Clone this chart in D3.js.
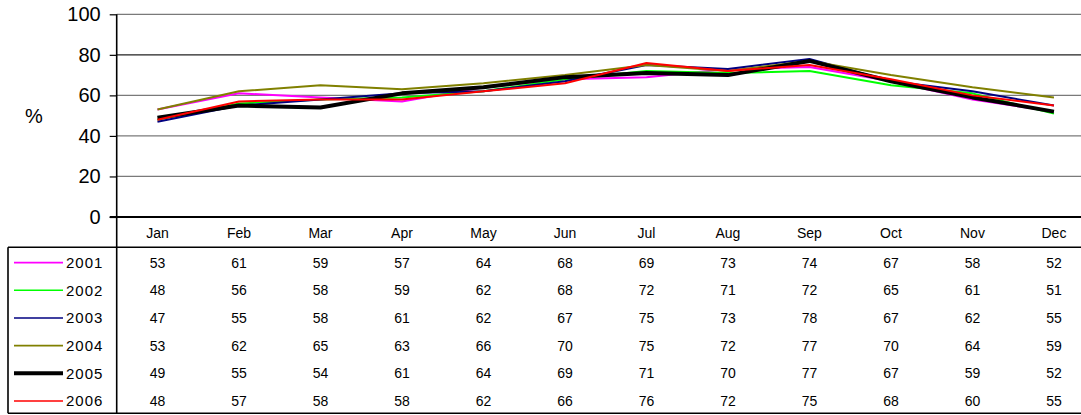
<!DOCTYPE html>
<html>
<head>
<meta charset="utf-8">
<script src="https://cdn.jsdelivr.net/npm/d3@7"></script>
<style>
  html, body { margin: 0; padding: 0; background: #fff; }
  svg { display: block; font-family: "Liberation Sans", Arial, sans-serif; }
</style>
</head>
<body>
<svg id="chart" width="1081" height="415"></svg>
<script>
// Monthly percentages by year
const months = ["Jan", "Feb", "Mar", "Apr", "May", "Jun", "Jul", "Aug", "Sep", "Oct", "Nov", "Dec"];
const years = ["2001", "2002", "2003", "2004", "2005", "2006"];
const v2001 = [53, 61, 59, 57, 64, 68, 69, 73, 74, 67, 58, 52];
const v2002 = [48, 56, 58, 59, 62, 68, 72, 71, 72, 65, 61, 51];
const v2003 = [47, 55, 58, 61, 62, 67, 75, 73, 78, 67, 62, 55];
const v2004 = [53, 62, 65, 63, 66, 70, 75, 72, 77, 70, 64, 59];
const v2005 = [49, 55, 54, 61, 64, 69, 71, 70, 77, 67, 59, 52];
const v2006 = [48, 57, 58, 58, 62, 66, 76, 72, 75, 68, 60, 55];
const yTicks = [0, 20, 40, 60, 80, 100];
const yLabel = "%";

const seriesValues = [v2001, v2002, v2003, v2004, v2005, v2006];
const seriesColors = ["#ff00ff", "#00ff00", "#000080", "#808000", "#000000", "#ff0000"];
const seriesWidths = [2, 2, 2, 2, 4, 2];

const svg = d3.select("#chart");

// Plot geometry
const plotLeft = 116.7;
const bandW = 81.5;
const yTop = 14.3, yBottom = 217;
const tableLeft = 8;
const headerBottom = 247.3;
const rowH = 27.67;
const tableBottom = headerBottom + rowH * years.length;

const x = d3.scaleBand().domain(months).range([plotLeft, plotLeft + bandW * months.length]).padding(0);
const y = d3.scaleLinear().domain([0, 100]).range([yBottom, yTop]);
const cx = m => x(m) + x.bandwidth() / 2;

// Horizontal gridlines
svg.append("g")
  .selectAll("line")
  .data(yTicks.filter(t => t > 0))
  .join("line")
  .attr("x1", plotLeft).attr("x2", 1081)
  .attr("y1", d => y(d)).attr("y2", d => y(d))
  .attr("stroke", d => d === 80 ? "#222" : "#7a7a7a")
  .attr("stroke-width", 1.2);

// Y axis
const yAxis = svg.append("g")
  .attr("transform", `translate(${plotLeft},0)`)
  .call(d3.axisLeft(y).tickValues(yTicks).tickSize(7).tickPadding(9));
yAxis.select(".domain").remove();
yAxis.selectAll(".tick line").attr("stroke", "#000").attr("stroke-width", 1.2);
yAxis.selectAll(".tick text")
  .attr("font-size", 20)
  .attr("fill", "#000")
  .attr("font-family", "Liberation Sans, Arial, sans-serif");

svg.append("text")
  .attr("x", 34).attr("y", y(50))
  .attr("text-anchor", "middle")
  .attr("dominant-baseline", "central")
  .attr("font-size", 20)
  .text(yLabel);

// Series lines
const line = d3.line()
  .x((d, i) => cx(months[i]))
  .y(d => y(d));

svg.append("g")
  .selectAll("path")
  .data(seriesValues)
  .join("path")
  .attr("d", d => line(d))
  .attr("fill", "none")
  .attr("stroke", (d, i) => seriesColors[i])
  .attr("stroke-width", (d, i) => seriesWidths[i])
  .attr("stroke-linejoin", "round");

// Data table frame
const frame = svg.append("g").attr("stroke", "#000");
frame.append("line") // zero line / header top
  .attr("x1", plotLeft - 7).attr("x2", 1081)
  .attr("y1", yBottom).attr("y2", yBottom)
  .attr("stroke-width", 2.2);
frame.append("line") // header bottom
  .attr("x1", tableLeft).attr("x2", 1081)
  .attr("y1", headerBottom).attr("y2", headerBottom)
  .attr("stroke-width", 1.6);
frame.append("line") // table bottom
  .attr("x1", tableLeft).attr("x2", 1081)
  .attr("y1", tableBottom).attr("y2", tableBottom)
  .attr("stroke-width", 1.6);
frame.append("line") // left border
  .attr("x1", tableLeft).attr("x2", tableLeft)
  .attr("y1", headerBottom).attr("y2", tableBottom)
  .attr("stroke-width", 1.6);
frame.append("line") // vertical axis / legend column separator
  .attr("x1", plotLeft).attr("x2", plotLeft)
  .attr("y1", yTop).attr("y2", tableBottom)
  .attr("stroke-width", 1.6);

// Month header labels
svg.append("g")
  .selectAll("text")
  .data(months)
  .join("text")
  .attr("x", d => cx(d))
  .attr("y", (yBottom + headerBottom) / 2 + 1)
  .attr("text-anchor", "middle")
  .attr("dominant-baseline", "central")
  .attr("font-size", 14)
  .text(d => d);

// Table rows: legend key + values
const rows = svg.append("g")
  .selectAll("g")
  .data(years)
  .join("g")
  .attr("transform", (d, i) => `translate(0,${headerBottom + rowH * i + rowH / 2 + 1.5})`);

rows.append("line")
  .attr("x1", 14).attr("x2", 63)
  .attr("y1", 0).attr("y2", 0)
  .attr("stroke", (d, i) => seriesColors[i])
  .attr("stroke-width", (d, i) => seriesWidths[i] === 4 ? 4 : 1.6);

rows.append("text")
  .attr("x", 66).attr("y", 0)
  .attr("dominant-baseline", "central")
  .attr("font-size", 15)
  .attr("letter-spacing", 1)
  .text(d => d);

rows.each(function (yr, i) {
  d3.select(this).selectAll("text.val")
    .data(seriesValues[i])
    .join("text")
    .attr("class", "val")
    .attr("x", (d, j) => cx(months[j]))
    .attr("y", 0)
    .attr("text-anchor", "middle")
    .attr("dominant-baseline", "central")
    .attr("font-size", 14)
    .text(d => d);
});
</script>
</body>
</html>
